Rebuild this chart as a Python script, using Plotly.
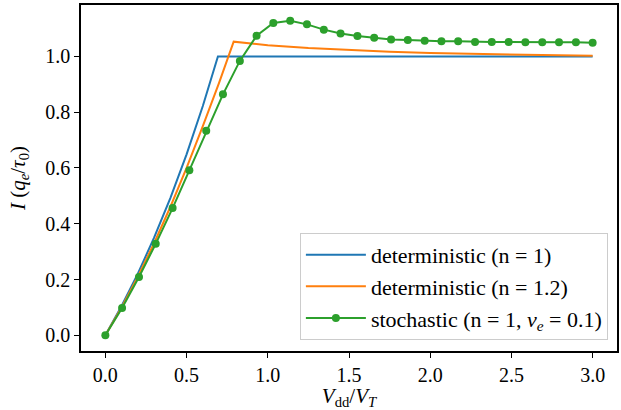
import plotly.graph_objects as go

# deterministic, n = 1
det1_x = [0.0, 0.1, 0.2, 0.3, 0.4, 0.5, 0.6, 0.693, 3.0]
det1_y = [0.0, 0.105, 0.221, 0.350, 0.492, 0.649, 0.822, 1.0, 1.0]

# deterministic, n = 1.2
det12_x = [0.0, 0.1, 0.2, 0.3, 0.4, 0.5, 0.6, 0.7, 0.79, 1.0, 1.25, 1.5, 1.75, 2.0, 2.25, 2.5, 2.75, 3.0]
det12_y = [0.0, 0.1, 0.21, 0.33, 0.46, 0.6, 0.75, 0.905, 1.053, 1.040, 1.030, 1.023, 1.017, 1.012, 1.009, 1.006, 1.004, 1.002]

# stochastic, n = 1, v_e = 0.1
sto_x = [0.0, 0.103, 0.207, 0.310, 0.414, 0.517, 0.621, 0.724, 0.828, 0.931,
         1.034, 1.138, 1.241, 1.345, 1.448, 1.552, 1.655, 1.759, 1.862, 1.966,
         2.069, 2.172, 2.276, 2.379, 2.483, 2.586, 2.690, 2.793, 2.897, 3.0]
sto_y = [0.0, 0.098, 0.209, 0.328, 0.456, 0.592, 0.733, 0.864, 0.984, 1.074,
         1.120, 1.128, 1.115, 1.096, 1.082, 1.073, 1.067, 1.061, 1.059, 1.056,
         1.054, 1.054, 1.052, 1.052, 1.052, 1.051, 1.051, 1.051, 1.051, 1.049]

names = ["deterministic (n = 1)",
         "deterministic (n = 1.2)",
         "stochastic (n = 1, <i>v</i><sub><i>e</i></sub> = 0.1)"]
colors = ["#1f77b4", "#ff7f0e", "#2ca02c"]

x_ticks = [0.0, 0.5, 1.0, 1.5, 2.0, 2.5, 3.0]
y_ticks = [0.0, 0.2, 0.4, 0.6, 0.8, 1.0]

FONT = "Liberation Serif"

fig = go.Figure()
fig.add_trace(go.Scatter(x=det1_x, y=det1_y, mode="lines", name=names[0],
                         line=dict(color=colors[0], width=2), legendgroup="a"))
fig.add_trace(go.Scatter(x=det12_x, y=det12_y, mode="lines", name=names[1],
                         line=dict(color=colors[1], width=2), legendgroup="b"))
fig.add_trace(go.Scatter(x=sto_x, y=sto_y, mode="lines+markers", name=names[2],
                         line=dict(color=colors[2], width=2),
                         marker=dict(color=colors[2], size=8), legendgroup="c"))

axis_common = dict(showline=True, linecolor="black", linewidth=1.5, mirror=True,
                   ticks="outside", ticklen=5, tickwidth=1.2, tickcolor="black",
                   showgrid=False, zeroline=False, automargin=False,
                   tickfont=dict(family=FONT, size=20, color="black"))

fig.update_xaxes(range=[-0.15, 3.15], tickvals=x_ticks, tickformat=".1f",
                 title=dict(text="<i>V</i><sub>dd</sub>/<i>V</i><sub><i>T</i></sub>",
                            font=dict(family=FONT, size=21, color="black"), standoff=0),
                 **axis_common)
fig.update_yaxes(range=[-0.0564, 1.1844], tickvals=y_ticks, tickformat=".1f",
                 title=dict(text="<i>I</i> (<i>q</i><sub><i>e</i></sub>/<i>τ</i><sub>0</sub>)",
                            font=dict(family=FONT, size=21, color="black"), standoff=14),
                 **axis_common)

fig.update_layout(
    width=621, height=410,
    margin=dict(l=81, r=4, t=5, b=59),
    paper_bgcolor="white", plot_bgcolor="white",
    font=dict(family=FONT, size=20, color="black"),
    legend=dict(x=0.983, y=0.032, xanchor="right", yanchor="bottom",
                bgcolor="rgba(255,255,255,0.8)", bordercolor="#cccccc", borderwidth=1,
                font=dict(family=FONT, size=22, color="black"),
                traceorder="grouped", tracegroupgap=0, itemwidth=60),
)

fig.write_html("out.html", config={"displayModeBar": False},
               post_script="document.body.style.margin='0';")
